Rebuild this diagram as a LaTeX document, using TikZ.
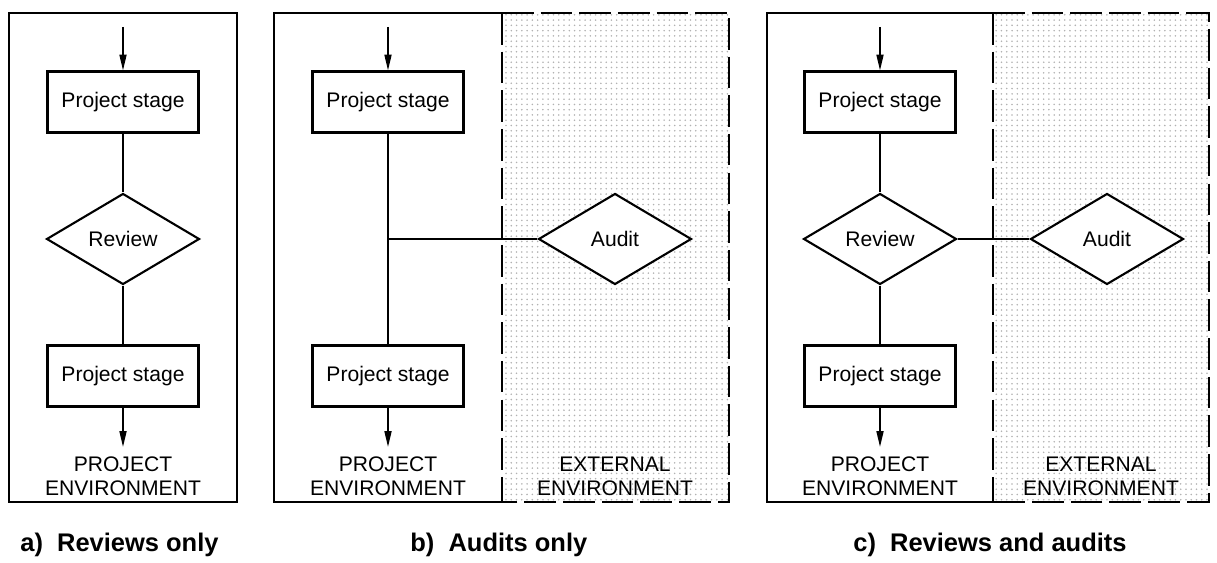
\documentclass[tikz,border=0pt]{standalone}
\usepackage{fontspec}
\setmainfont{Liberation Sans}
\usetikzlibrary{shapes.geometric,arrows.meta,patterns}

\tikzset{
	stage/.style={draw, line width=1.2pt, rectangle, minimum width=3.02cm, minimum height=1.22cm, inner sep=0pt, font=\fontsize{12}{13}\selectfont},
	check/.style={draw, line width=1.2pt, diamond, minimum width=3.06cm, minimum height=1.82cm, inner sep=0pt, font=\fontsize{12}{13}\selectfont},
	envtext/.style={align=center, font=\fontsize{12}{13.5}\selectfont},
	caption/.style={anchor=west, inner sep=0pt, font=\fontsize{14.5}{16}\selectfont\bfseries},
	flow/.style={line width=0.9pt},
	flowarrow/.style={line width=0.9pt, -{Triangle[length=9pt,width=4pt]}},
	border/.style={line width=1.4pt},
	extborder/.style={line width=1.4pt, dash pattern=on 18pt off 4pt},
	extfill/.style={pattern=dots, pattern color=black!30}
}

\begin{document}
\begin{tikzpicture}[x=0.02cm, y=-0.02cm]
		\useasboundingbox (0,0) rectangle (1217,563);
		
		% a) reviews only
		\draw[border] (9,13) rectangle (237,502);
		\coordinate (ina) at (123,27);
		\node[stage] (Pa) at (123,102) {Project stage};
		\node[check] (Ra) at (123,239) {Review};
		\node[stage] (Qa) at (123,376) {Project stage};
		\node[envtext] (Ea) at (123,476) {PROJECT\\ENVIRONMENT};
		\draw[flowarrow] (ina) -- (Pa);
		\draw[flow] (Pa) -- (Ra);
		\draw[flow] (Ra) -- (Qa);
		\draw[flowarrow] (Qa) -- ([yshift=2pt]Ea.north);
		\node[caption] (Ca) at (20,545) {a)\ \ Reviews only};
		
		% b) audits only
		\fill[extfill] (502,13) rectangle (729,502);
		\draw[border] (502,13) -- (274,13) -- (274,502) -- (502,502);
		\draw[extborder] (502,13) -- (729,13) -- (729,502) -- (502,502);
		\draw[extborder] (502,13) -- (502,502);
		\coordinate (inb) at (388,27);
		\node[stage] (Pb) at (388,102) {Project stage};
		\node[check, fill=white] (Ab) at (615,239) {Audit};
		\node[stage] (Qb) at (388,376) {Project stage};
		\coordinate (Jb) at (388,239);
		\node[envtext] (Eb) at (388,476) {PROJECT\\ENVIRONMENT};
		\node[envtext] (Xb) at (615,476) {EXTERNAL\\ENVIRONMENT};
		\draw[flowarrow] (inb) -- (Pb);
		\draw[flow] (Pb) -- (Qb);
		\draw[flow] (Jb) -- (Ab);
		\draw[flowarrow] (Qb) -- ([yshift=2pt]Eb.north);
		\node[caption] (Cb) at (410,545) {b)\ \ Audits only};
		
		% c) reviews and audits
		\fill[extfill] (993,13) rectangle (1209,502);
		\draw[border] (993,13) -- (767,13) -- (767,502) -- (993,502);
		\draw[extborder] (993,13) -- (1209,13) -- (1209,502) -- (993,502);
		\draw[extborder] (993,13) -- (993,502);
		\coordinate (inc) at (880,27);
		\node[stage] (Pc) at (880,102) {Project stage};
		\node[check, fill=white] (Rc) at (880,239) {Review};
		\node[check, fill=white] (Ac) at (1107,239) {Audit};
		\node[stage] (Qc) at (880,376) {Project stage};
		\node[envtext] (Ec) at (880,476) {PROJECT\\ENVIRONMENT};
		\node[envtext] (Xc) at (1101,476) {EXTERNAL\\ENVIRONMENT};
		\draw[flowarrow] (inc) -- (Pc);
		\draw[flow] (Pc) -- (Rc);
		\draw[flow] (Rc) -- (Qc);
		\draw[flow] (Rc) -- (Ac);
		\draw[flowarrow] (Qc) -- ([yshift=2pt]Ec.north);
		\node[caption] (Cc) at (853,545) {c)\ \ Reviews and audits};
\end{tikzpicture}
\end{document}
